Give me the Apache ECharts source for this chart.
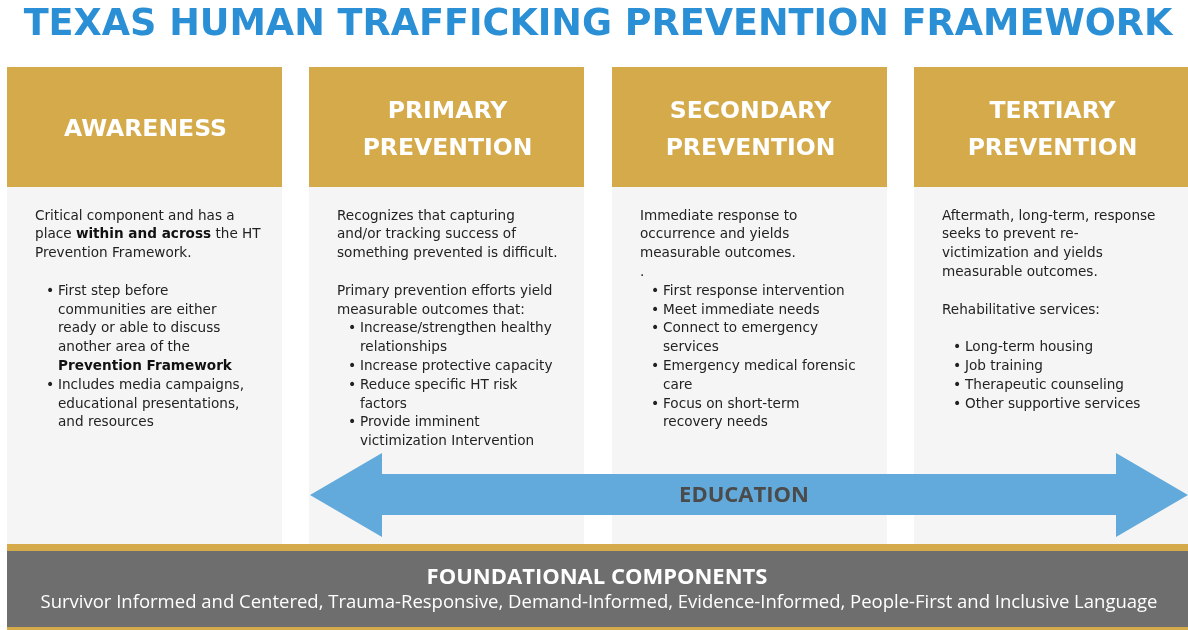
<!DOCTYPE html>
<html>
<head>
<meta charset="utf-8">
<script src="https://cdn.jsdelivr.net/npm/echarts@6/dist/echarts.min.js"></script>
<style>
  html, body { margin: 0; padding: 0; background: #fff; }
  #framework { width: 1188px; height: 630px; }
</style>
</head>
<body>
<div id="framework"></div>
<script>
// 文本内容
const title = 'TEXAS HUMAN TRAFFICKING PREVENTION FRAMEWORK';
const headers = ['AWARENESS', 'PRIMARY\nPREVENTION', 'SECONDARY\nPREVENTION', 'TERTIARY\nPREVENTION'];

// "* " = bullet, "  " = bullet continuation, "" = blank line
const awarenessLines = [
  'Critical component and has a',
  'place {b|within and across} the HT',
  'Prevention Framework.',
  '',
  '* First step before',
  '  communities are either',
  '  ready or able to discuss',
  '  another area of the',
  '  {b|Prevention Framework}',
  '* Includes media campaigns,',
  '  educational presentations,',
  '  and resources'
];
const primaryLines = [
  'Recognizes that capturing',
  'and/or tracking success of',
  'something prevented is difficult.',
  '',
  'Primary prevention efforts yield',
  'measurable outcomes that:',
  '* Increase/strengthen healthy',
  '  relationships',
  '* Increase protective capacity',
  '* Reduce specific HT risk',
  '  factors',
  '* Provide imminent',
  '  victimization Intervention'
];
const secondaryLines = [
  'Immediate response to',
  'occurrence and yields',
  'measurable outcomes.',
  '.',
  '* First response intervention',
  '* Meet immediate needs',
  '* Connect to emergency',
  '  services',
  '* Emergency medical forensic',
  '  care',
  '* Focus on short-term',
  '  recovery needs'
];
const tertiaryLines = [
  'Aftermath, long-term, response',
  'seeks to prevent re-',
  'victimization and yields',
  'measurable outcomes.',
  '',
  'Rehabilitative services:',
  '',
  '* Long-term housing',
  '* Job training',
  '* Therapeutic counseling',
  '* Other supportive services'
];
const columnLines = [awarenessLines, primaryLines, secondaryLines, tertiaryLines];

const arrowLabel = 'EDUCATION';
const footerTitle = 'FOUNDATIONAL COMPONENTS';
const footerText = 'Survivor Informed and Centered, Trauma-Responsive, Demand-Informed, Evidence-Informed, People-First and Inclusive Language';

// 布局
const GOLD = '#d4aa4b';
const BODY = '#f5f5f5';
const colLeft = [7, 309, 612, 914];
const colW = 275;
const headTop = 67, headBottom = 187, bodyBottom = 545;
const lineTop = 216, lineH = 18.8;
const bodyFont = 'DejaVu Sans';
const bodySize = 13.6;

const elements = [];

// 标题
elements.push({
  type: 'text', x: 598, y: 25,
  style: { text: title, fontSize: 36.6, fontWeight: 'bold', fontFamily: 'DejaVu Sans', fill: '#2a8fd5', align: 'center', verticalAlign: 'middle' }
});

columnLines.forEach(function (lines, c) {
  const x0 = colLeft[c];
  elements.push({ type: 'rect', shape: { x: x0, y: headTop, width: colW, height: headBottom - headTop }, style: { fill: GOLD } });
  elements.push({ type: 'rect', shape: { x: x0, y: headBottom, width: colW, height: bodyBottom - headBottom }, style: { fill: BODY } });
  elements.push({
    type: 'text', x: x0 + colW / 2 + 1, y: 130,
    style: {
      text: headers[c], fontSize: 23.5, fontWeight: 'bold', fontFamily: 'DejaVu Sans',
      fill: '#fff', align: 'center', verticalAlign: 'middle', lineHeight: 37
    }
  });
  lines.forEach(function (ln, i) {
    if (!ln) return;
    const y = lineTop + i * lineH;
    let tx = x0 + 28;
    let txt = ln;
    if (ln.startsWith('* ')) {
      elements.push({
        type: 'text', x: x0 + 39, y: y,
        style: { text: '•', fontSize: 14, fontFamily: bodyFont, fill: '#222', verticalAlign: 'middle' }
      });
      tx = x0 + 51; txt = ln.slice(2);
    } else if (ln.startsWith('  ')) {
      tx = x0 + 51; txt = ln.slice(2);
    }
    elements.push({
      type: 'text', x: tx, y: y,
      style: {
        text: txt, fontSize: bodySize, fontFamily: bodyFont, fill: '#222', verticalAlign: 'middle',
        rich: { b: { fontSize: bodySize, fontFamily: bodyFont, fontWeight: 'bold', fill: '#111' } }
      }
    });
  });
});

// 双向箭头
elements.push({
  type: 'polygon',
  shape: { points: [[310, 495], [382, 453], [382, 474], [1116, 474], [1116, 453], [1188, 495], [1116, 537], [1116, 515], [382, 515], [382, 537]] },
  style: { fill: '#62aadb' }
});
elements.push({
  type: 'text', x: 744, y: 496,
  style: { text: arrowLabel, fontSize: 22, fontWeight: 'bold', fontFamily: 'Open Sans', fill: '#4b4b4b', align: 'center', verticalAlign: 'middle' }
});

// 底部
elements.push({ type: 'rect', shape: { x: 7, y: 544, width: 1181, height: 7 }, style: { fill: GOLD } });
elements.push({ type: 'rect', shape: { x: 7, y: 551, width: 1181, height: 77 }, style: { fill: '#6e6e6e' } });
elements.push({ type: 'rect', shape: { x: 7, y: 627, width: 1181, height: 3 }, style: { fill: GOLD } });
elements.push({
  type: 'text', x: 597, y: 578,
  style: { text: footerTitle, fontSize: 22, fontWeight: 'bold', fontFamily: 'Open Sans', fill: '#fff', align: 'center', verticalAlign: 'middle' }
});
elements.push({
  type: 'text', x: 599, y: 603,
  style: { text: footerText, fontSize: 18.5, fontFamily: 'Open Sans', fill: '#fff', align: 'center', verticalAlign: 'middle' }
});

let myChart = echarts.init(document.getElementById('framework'));
myChart.setOption({
  animation: false,
  graphic: { elements: elements }
});
window.onresize = function () { myChart.resize(); };
</script>
</body>
</html>
